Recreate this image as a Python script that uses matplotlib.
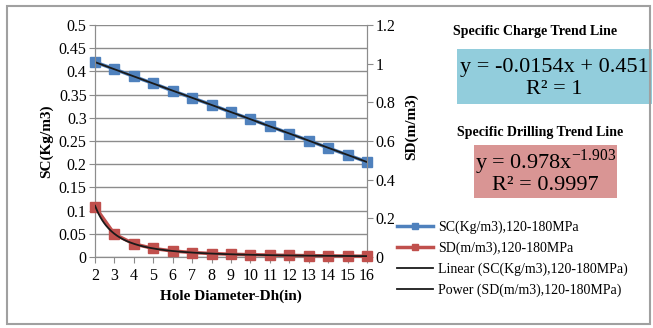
import numpy as np
import matplotlib.pyplot as plt
from matplotlib.patches import Rectangle

plt.rcParams['font.family'] = ['Liberation Serif', 'DejaVu Serif']

# Daten
dh = [2, 3, 4, 5, 6, 7, 8, 9, 10, 11, 12, 13, 14, 15, 16]
sc = [0.420, 0.405, 0.389, 0.374, 0.358, 0.343, 0.328, 0.312, 0.297,
      0.282, 0.266, 0.251, 0.235, 0.220, 0.205]
sd = [0.260, 0.118, 0.068, 0.044, 0.031, 0.023, 0.018, 0.014, 0.012,
      0.010, 0.008, 0.007, 0.006, 0.005, 0.004]
sc_label = 'SC(Kg/m3),120-180MPa'
sd_label = 'SD(m/m3),120-180MPa'

blue = '#4F81BD'
red = '#C0504D'
grid_c = '#8c8c8c'

# Trendlinien aus den Daten
x = np.array(dh, dtype=float)
k_lin = np.polyfit(x, sc, 1)
k_pow = np.polyfit(np.log(x), np.log(sd), 1)
xs = np.linspace(2, 16, 300)
y_lin = np.polyval(k_lin, xs)
y_pow = np.exp(k_pow[1]) * xs ** k_pow[0]

fig = plt.figure(figsize=(6.53, 3.28), dpi=100)
ax = fig.add_axes([0.1455, 0.2165, 0.4165, 0.7073])
ax2 = ax.twinx()

l1, = ax.plot(dh, sc, color=blue, lw=2.5, marker='s', ms=7, label=sc_label,
              zorder=3, clip_on=False)
t1, = ax.plot(xs, y_lin, color='#1a1a1a', lw=1.3, label='Linear (SC(Kg/m3),120-180MPa)', zorder=4)
l2, = ax2.plot(dh, sd, color=red, lw=2.5, marker='s', ms=7, label=sd_label,
               zorder=3, clip_on=False)
t2, = ax2.plot(xs, y_pow, color='#1a1a1a', lw=1.3, label='Power (SD(m/m3),120-180MPa)', zorder=4)

ax.set_xlim(2, 16)
ax.set_ylim(0, 0.5)
ax2.set_ylim(0, 1.2)
ax.set_xticks(dh)
ax.set_yticks(np.arange(0, 0.501, 0.05))
ax.set_yticklabels(['0', '0.05', '0.1', '0.15', '0.2', '0.25', '0.3', '0.35', '0.4', '0.45', '0.5'])
ax2.set_yticks(np.arange(0, 1.21, 0.2))
ax2.set_yticklabels(['0', '0.2', '0.4', '0.6', '0.8', '1', '1.2'])

ax.grid(True, axis='y', color=grid_c, lw=1)
for a in (ax, ax2):
    a.tick_params(labelsize=11.5, color=grid_c, length=4, pad=2)
    for s in a.spines.values():
        s.set_color(grid_c)
    a.spines['top'].set_visible(False)
ax.tick_params(axis='x', pad=4)

ax.set_xlabel('Hole Diameter-Dh(in)', fontsize=11, fontweight='bold', labelpad=4)
ax.set_ylabel('SC(Kg/m3)', fontsize=11, fontweight='bold', labelpad=4)
ax2.set_ylabel('SD(m/m3)', fontsize=11, fontweight='bold', labelpad=2)
ax2.yaxis.set_label_coords(1.14, 0.56)

# Legende
fig.legend(handles=[l1, l2, t1, t2], loc='upper left', bbox_to_anchor=(0.6, 0.345),
           frameon=False, fontsize=10, handlelength=2.6, handletextpad=0.3,
           labelspacing=0.55, borderaxespad=0, markerscale=0.7)

# Trendlinien-Beschriftungen
fig.text(0.820, 0.905, 'Specific Charge Trend Line', fontsize=10, fontweight='bold',
         ha='center', va='center')
fig.add_artist(Rectangle((0.700, 0.683), 0.298, 0.168, transform=fig.transFigure,
                         facecolor='#92CDDC', edgecolor='none'))
fig.text(0.849, 0.795, 'y = -0.0154x + 0.451', fontsize=16, ha='center', va='center')
fig.text(0.849, 0.728, 'R² = 1', fontsize=16, ha='center', va='center')

fig.text(0.827, 0.595, 'Specific Drilling Trend Line', fontsize=10, fontweight='bold',
         ha='center', va='center')
fig.add_artist(Rectangle((0.726, 0.396), 0.219, 0.162, transform=fig.transFigure,
                         facecolor='#D99594', edgecolor='none'))
fig.text(0.835, 0.505, r'y = 0.978x$^{\mathregular{-1.903}}$', fontsize=16, ha='center', va='center')
fig.text(0.835, 0.435, 'R² = 0.9997', fontsize=16, ha='center', va='center')

# Rahmen
fig.add_artist(Rectangle((0.011, 0.012), 0.985, 0.97, transform=fig.transFigure,
                         facecolor='none', edgecolor='#a0a0a0', lw=1.5))

fig.savefig('out.png', dpi=100)
